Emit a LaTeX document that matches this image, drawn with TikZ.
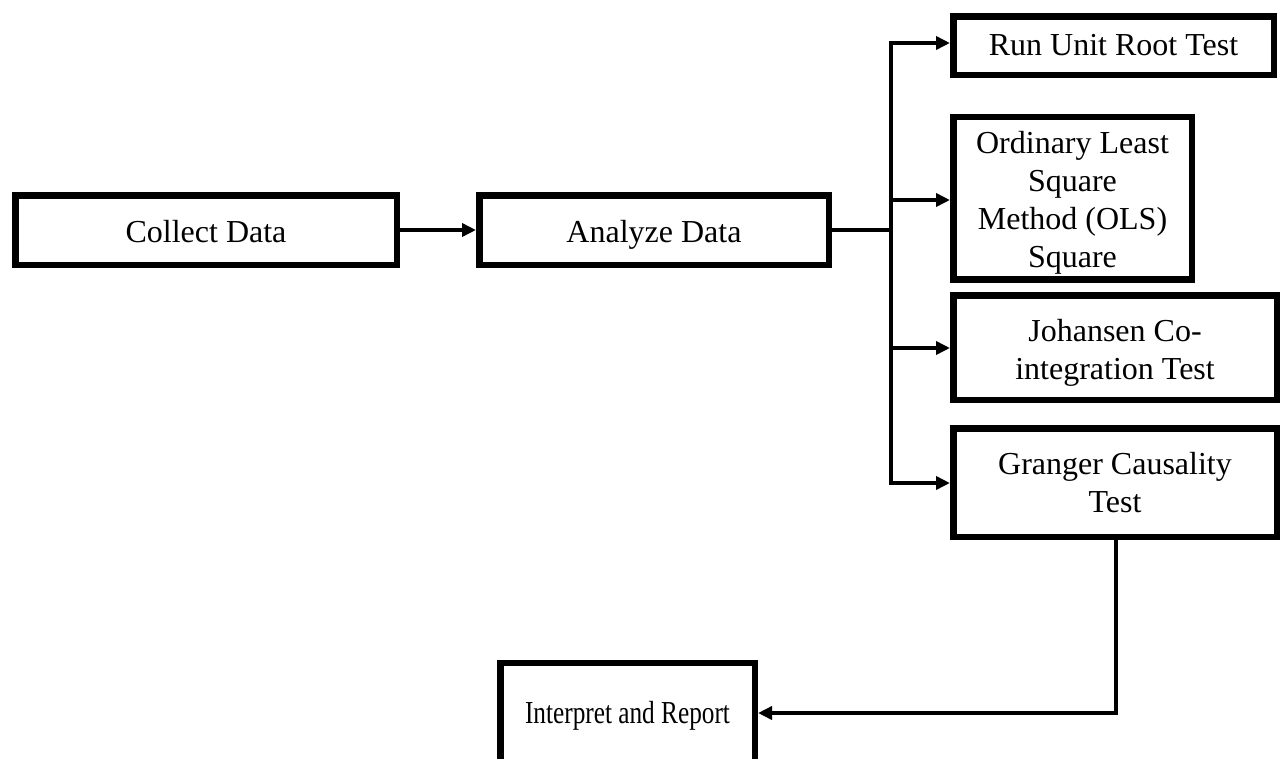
\documentclass[tikz,border=0pt]{standalone}
\usepackage{fontspec}
\setmainfont{Liberation Serif}
\usetikzlibrary{arrows.meta}
\tikzset{
  box/.style={draw=black, line width=6.5pt, fill=white, inner sep=0pt, align=center,
    font=\fontsize{32}{37.7}\selectfont, anchor=center},
  txt/.style={inner sep=0pt, align=center, font=\fontsize{32}{37.7}\selectfont, anchor=center},
  conn/.style={draw=black, line width=4.3pt, line join=miter},
  arr/.style={conn, -{Triangle[length=14pt,width=13pt]}}
}
\begin{document}
\begin{tikzpicture}[x=1pt,y=-1pt]
\useasboundingbox (0,0) rectangle (1285,758);
\begin{scope}
\clip (0,0) rectangle (1285,758);
\node[box, minimum width=381.5pt, minimum height=69.5pt, text height=25.4pt, text depth=0pt] (collect) at (206,230) {Collect Data};
\node[box, minimum width=349.5pt, minimum height=69.5pt, text height=25.4pt, text depth=0pt] (analyze) at (654,230) {Analyze Data};
\node[box, minimum width=320.5pt, minimum height=58.5pt, text height=22pt, text depth=3pt] (run) at (1113.5,45.5) {Run Unit Root Test};
\node[box, minimum width=238.5pt, minimum height=162.5pt] (ols) at (1072.5,198) {};
\node[txt] (olstext) at (1072.5,202.8) {Ordinary Least\\Square\\Method (OLS)\\Square};
\node[box, minimum width=323.5pt, minimum height=104.5pt] (joh) at (1115,347.5) {};
\node[txt] (johtext) at (1115,353) {Johansen Co-\\integration Test};
\node[box, minimum width=323.5pt, minimum height=108.5pt] (gr) at (1115,482.5) {};
\node[txt] (grtext) at (1115,482.6) {Granger Causality\\Test};
\node[box, minimum width=254.5pt, minimum height=104pt, text height=24pt, text depth=8pt] (ip) at (627.5,715) {\scalebox{0.79}[1]{Interpret and Report}};

\coordinate (j0) at (891,230);
\coordinate (j1) at (891,43);
\coordinate (j2) at (891,200);
\coordinate (j3) at (891,348);
\coordinate (j4) at (891,483);
\coordinate (c1) at (1116,713);

\draw[arr] (collect.east) -- (analyze.west);
\draw[conn] (analyze.east) -- (j0);
\draw[arr] (j4) -- (j1) -- (j1 -| run.west);
\draw[arr] (j1) -- (j4) -- (j4 -| gr.west);
\draw[arr] (j2) -- (j2 -| ols.west);
\draw[arr] (j3) -- (j3 -| joh.west);
\draw[arr] (gr.south -| c1) -- (c1) -- (c1 -| ip.east);
\end{scope}
\end{tikzpicture}
\end{document}
